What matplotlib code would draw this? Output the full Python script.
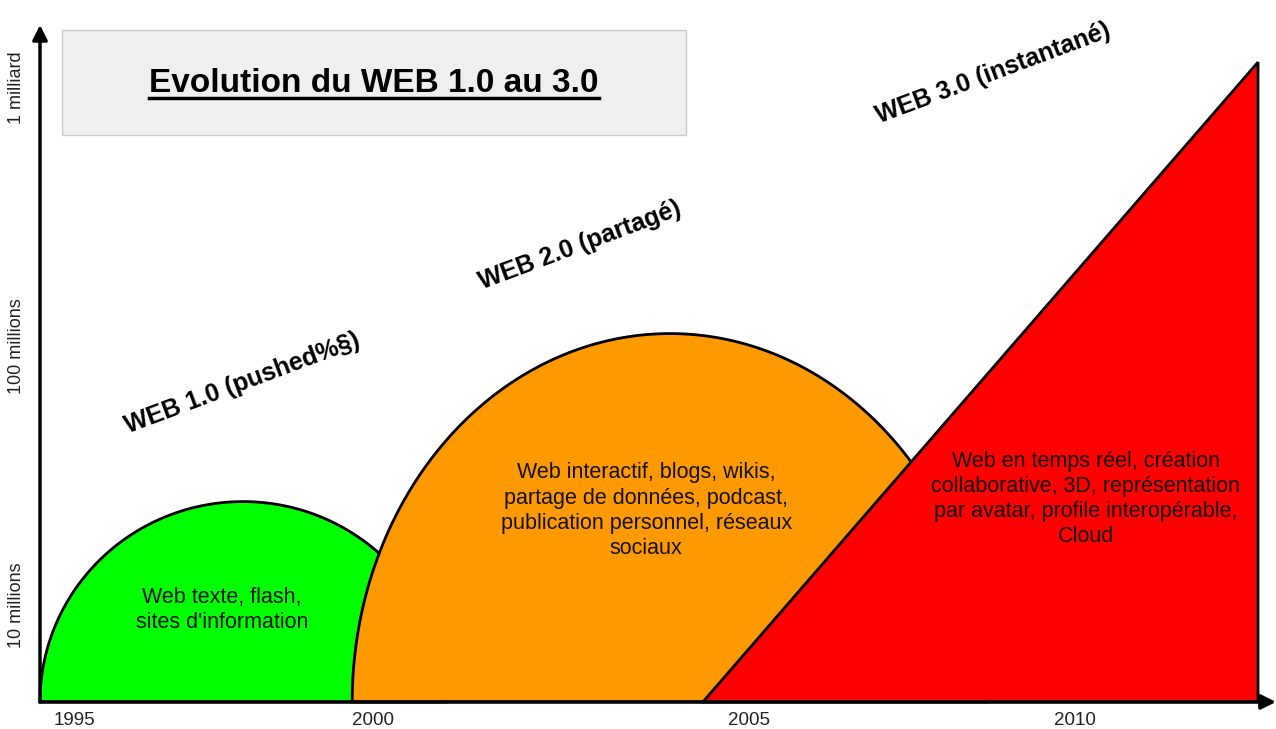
"""
Evolution du WEB 1.0 au 3.0 - diagram recreated with matplotlib.
x axis: years, y axis: log10(number of users).
Saved as: out.png
"""
import numpy as np
import matplotlib
matplotlib.use("Agg")
import matplotlib.pyplot as plt
from matplotlib.patches import Polygon, Rectangle
from matplotlib.lines import Line2D

plt.rcParams["font.family"] = ["Liberation Sans", "DejaVu Sans"]

# ── Data ────────────────────────────────────────────────────────────────────
PHASES       = ["WEB 1.0 (pushed%§)", "WEB 2.0 (partagé)", "WEB 3.0 (instantané)"]
PHASE_START  = [1995.0, 1999.46, 2004.47]   # year the phase appears
PHASE_TOP_AT = [1997.9, 2004.0, 2012.4]     # year of the peak
PHASE_END    = [2000.8, 2008.54, 2012.4]    # year the shape closes
PHASE_PEAK   = [7.40, 8.05, 9.10]           # log10(users) at the peak
PHASE_KIND   = ["arc", "arc", "triangle"]
PHASE_TEXT   = [
    "Web texte, flash,\nsites d'information",
    "Web interactif, blogs, wikis,\npartage de données, podcast,\n"
    "publication personnel, réseaux\nsociaux",
    "Web en temps réel, création\ncollaborative, 3D, représentation\n"
    "par avatar, profile interopérable,\nCloud",
]
BASE = 6.625                                # log10(users) on the time axis

YEAR_TICKS  = [1995.19, 1999.46, 2004.83, 2009.49]
YEAR_LABELS = ["1995", "2000", "2005", "2010"]
USER_TICKS  = [7, 8, 9]
USER_LABELS = ["10 millions", "100 millions", "1 milliard"]

# ── Styles / layout ─────────────────────────────────────────────────────────
COLORS    = ["#00FF00", "#FF9900", "#FF0000"]
TEXT_POS  = [(1997.6, 6.98), (2003.66, 7.364), (2009.94, 7.41)]
LABEL_POS = [(1997.886, 7.859), (2002.714, 8.393), (2008.614, 9.058)]
LABEL_ROT = 20.5

fig = plt.figure(figsize=(12.76, 7.29), dpi=100, facecolor="white")
ax = fig.add_axes([0, 0, 1, 1])
ax.set_xlim(1994.4286, 2012.657)
ax.set_ylim(6.5203, 9.3404)
ax.axis("off")

# ── Phase shapes ────────────────────────────────────────────────────────────
for i in range(len(PHASES)):
    if PHASE_KIND[i] == "arc":
        cx = PHASE_TOP_AT[i]
        half = cx - PHASE_START[i]
        t = np.linspace(np.pi, 0, 200)
        xs = cx + half * np.cos(t)
        ys = BASE + (PHASE_PEAK[i] - BASE) * np.sin(t)
        pts = np.column_stack([xs, ys])
    else:
        pts = np.array([[PHASE_START[i], BASE],
                        [PHASE_TOP_AT[i], PHASE_PEAK[i]],
                        [PHASE_END[i], BASE]])
    ax.add_patch(Polygon(pts, closed=True, facecolor=COLORS[i],
                         edgecolor="black", linewidth=2.0, zorder=2 + i))
    ax.text(*TEXT_POS[i], PHASE_TEXT[i], ha="center", va="center",
            fontsize=15.5, color="#111111", linespacing=1.27, zorder=10)
    ax.text(*LABEL_POS[i], PHASES[i], ha="center", va="center",
            rotation=LABEL_ROT, rotation_mode="anchor", fontsize=18,
            fontweight="bold", color="black", zorder=10)

# ── Axes arrows ─────────────────────────────────────────────────────────────
arrow = dict(arrowstyle="-|>", color="black", lw=2.5, mutation_scale=22,
             shrinkA=0, shrinkB=0)
ax.annotate("", xy=(1995.0, 9.244), xytext=(1995.0, BASE),
            arrowprops=arrow, zorder=12)
ax.annotate("", xy=(2012.657, BASE), xytext=(1995.0, BASE),
            arrowprops=arrow, zorder=12)

for x, lbl in zip(YEAR_TICKS, YEAR_LABELS):
    ax.text(x, 6.555, lbl, ha="left", va="center", fontsize=13.5,
            color="#222222")
for y, lbl in zip(USER_TICKS, USER_LABELS):
    ax.text(1994.67, y, lbl, ha="center", va="center", rotation=90,
            fontsize=13, color="#222222")

# ── Title card ──────────────────────────────────────────────────────────────
fig.patches.append(Rectangle((62 / 1276, 1 - 135 / 729), 624 / 1276, 105 / 729,
                             transform=fig.transFigure, facecolor="#EFEFEF",
                             edgecolor="#CCCCCC", linewidth=1.0, zorder=0))
title = fig.text(374 / 1276, 1 - 83 / 729, "Evolution du WEB 1.0 au 3.0",
                 ha="center", va="center", fontsize=24, fontweight="bold",
                 color="black")
fig.canvas.draw()
bb = title.get_window_extent().transformed(fig.transFigure.inverted())
fig.lines.append(Line2D([bb.x0, bb.x1], [1 - 98 / 729] * 2,
                        transform=fig.transFigure, color="black", lw=2.5))

plt.savefig("out.png", dpi=100, facecolor="white")
plt.close()
